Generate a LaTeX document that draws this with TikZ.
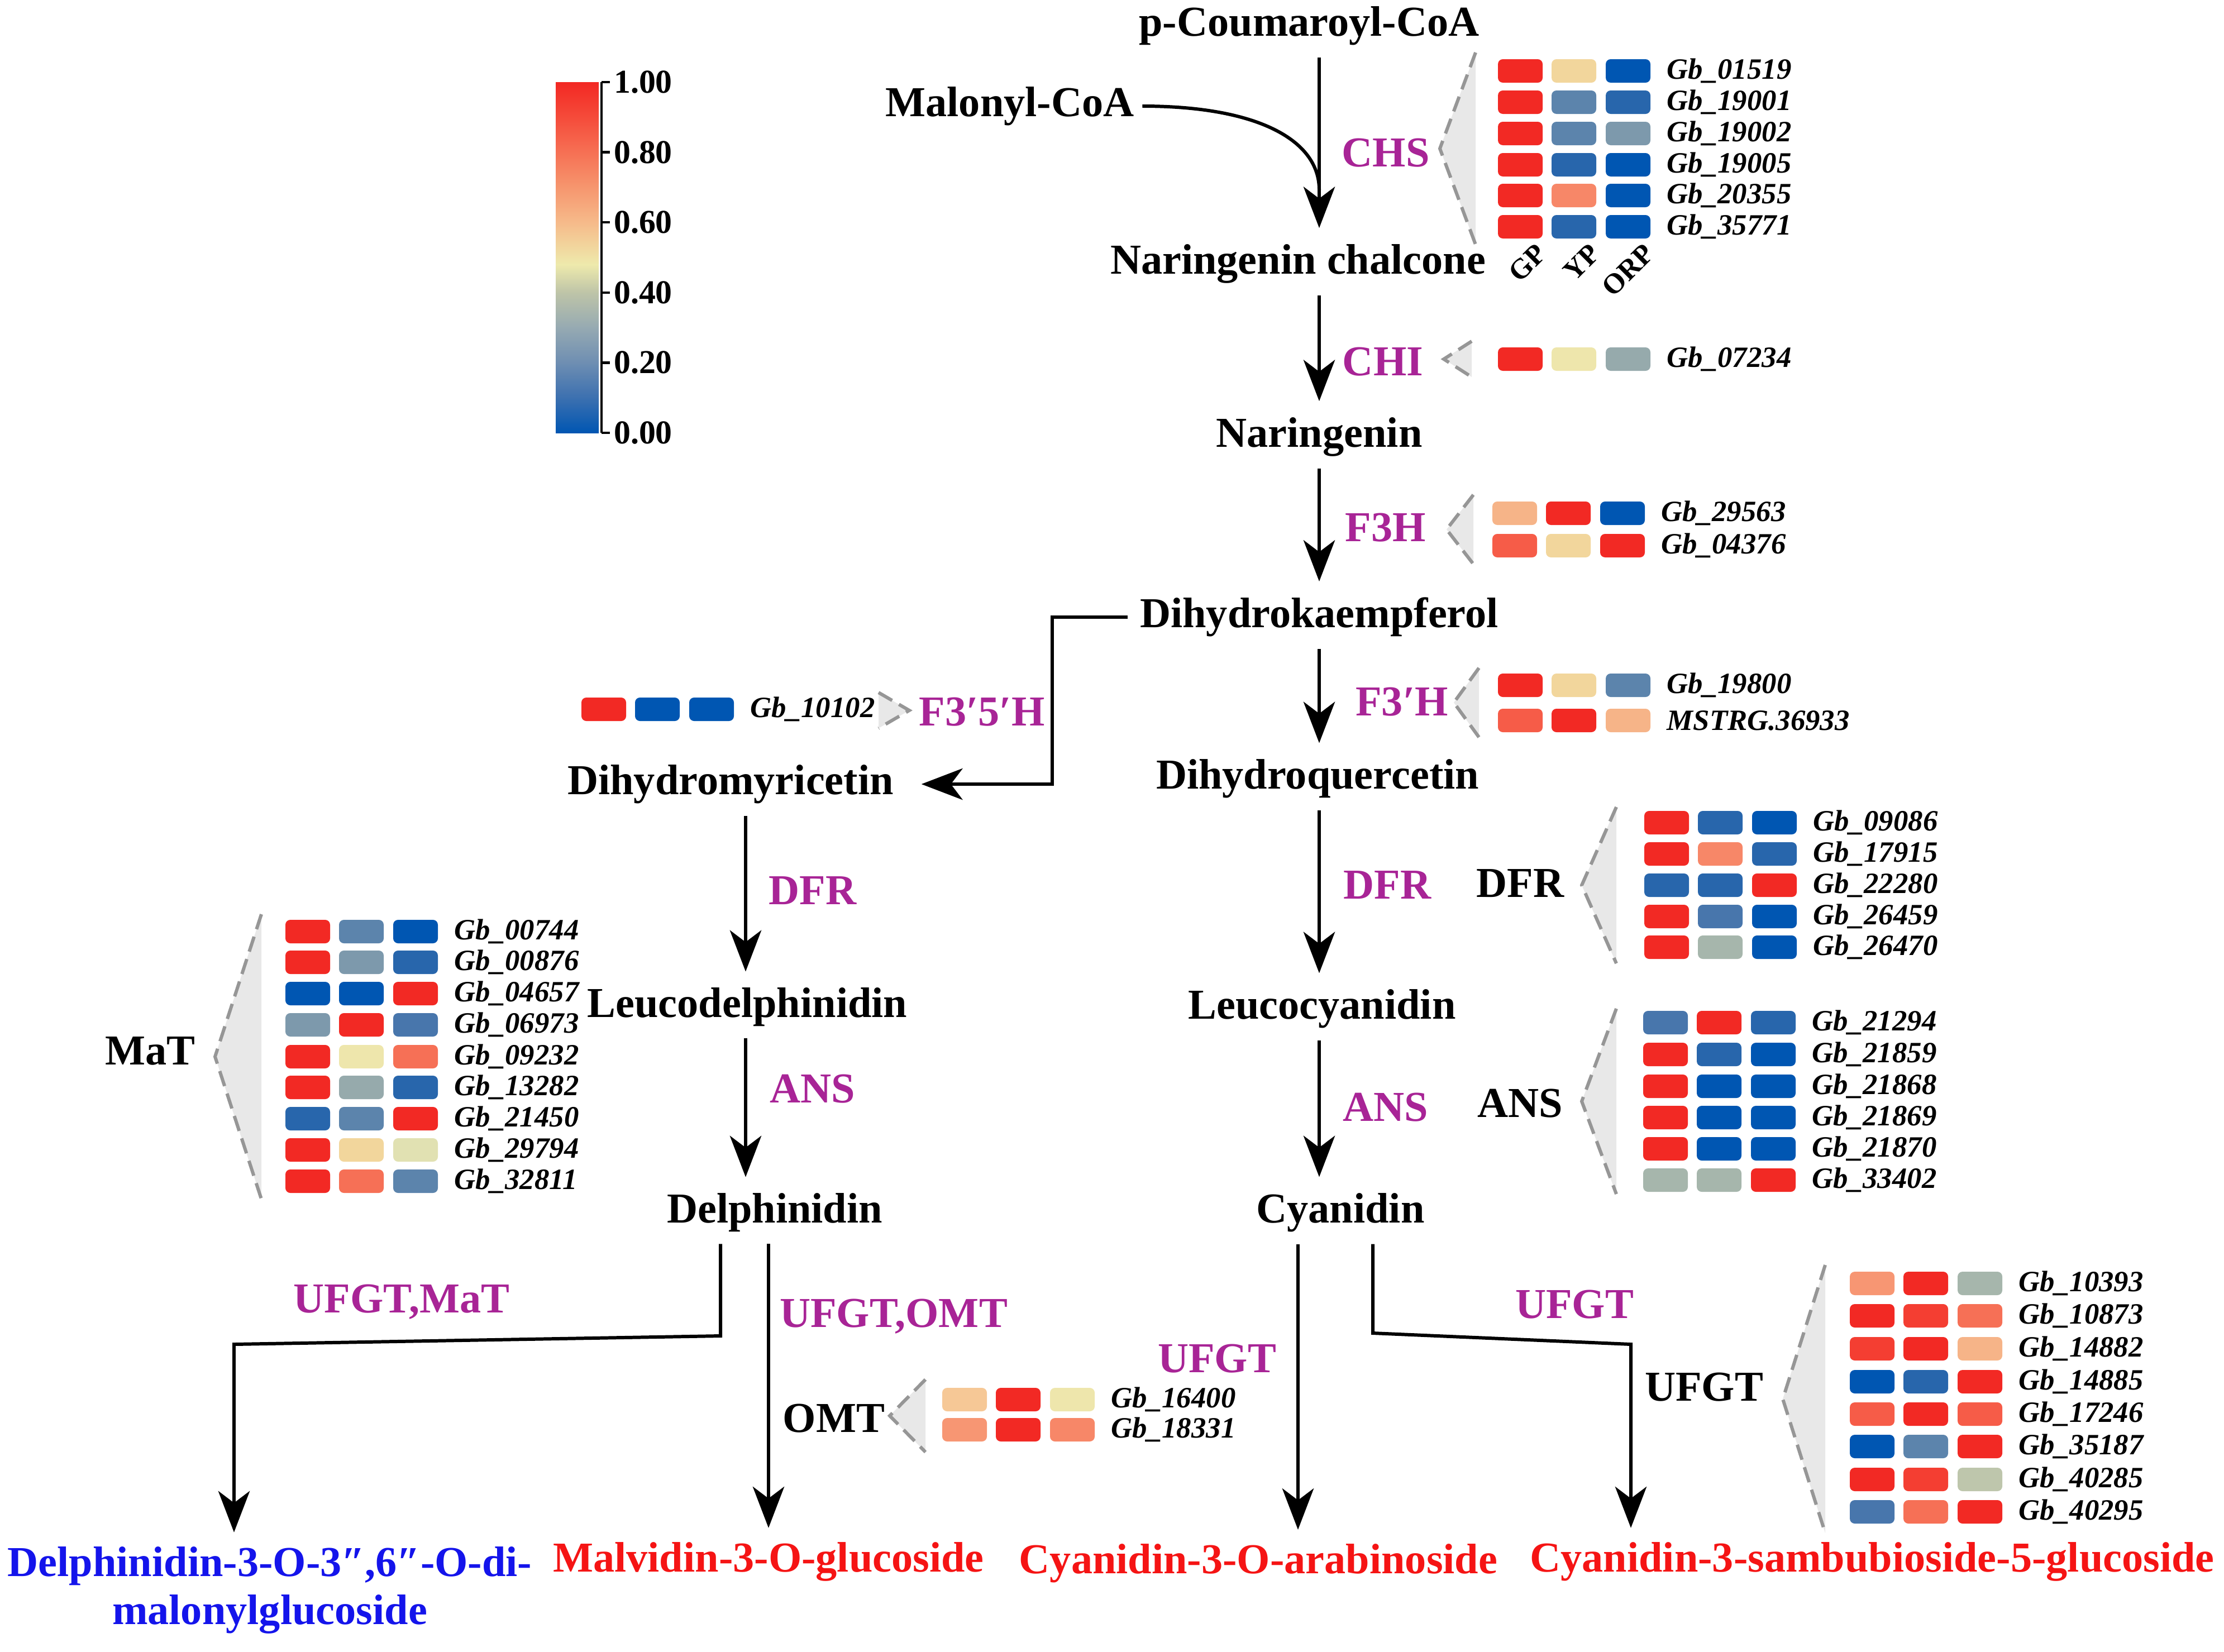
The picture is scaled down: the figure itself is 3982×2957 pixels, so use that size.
\documentclass[tikz,border=0pt]{standalone}
\usepackage{fontspec}
\setmainfont{Liberation Serif}
\usetikzlibrary{arrows.meta,calc}

\definecolor{enzc}{RGB}{168,36,150}
\definecolor{trig}{RGB}{232,232,232}
\definecolor{trigd}{RGB}{150,150,150}
\definecolor{pblue}{RGB}{20,20,235}
\definecolor{pred}{RGB}{245,20,20}
\definecolor{hR}{RGB}{242,41,36}
\definecolor{hRa}{RGB}{244,62,50}
\definecolor{hRb}{RGB}{246,92,72}
\definecolor{hRc}{RGB}{246,112,86}
\definecolor{hOr}{RGB}{247,135,104}
\definecolor{hOa}{RGB}{247,150,115}
\definecolor{hPe}{RGB}{246,180,136}
\definecolor{hPf}{RGB}{246,200,150}
\definecolor{hYe}{RGB}{242,214,156}
\definecolor{hYl}{RGB}{238,230,172}
\definecolor{hYg}{RGB}{225,225,178}
\definecolor{hGy}{RGB}{190,198,172}
\definecolor{hGg}{RGB}{166,182,172}
\definecolor{hGb}{RGB}{150,170,172}
\definecolor{hSb}{RGB}{125,153,172}
\definecolor{hMb}{RGB}{92,132,172}
\definecolor{hMc}{RGB}{72,118,172}
\definecolor{hDb}{RGB}{40,102,172}
\definecolor{hB}{RGB}{0,86,178}
\definecolor{cbA}{RGB}{60,112,176}
\definecolor{cbB}{RGB}{110,142,178}
\definecolor{cbC}{RGB}{150,170,178}
\definecolor{cbD}{RGB}{190,196,168}
\definecolor{cbE}{RGB}{238,234,172}
\definecolor{cbF}{RGB}{246,186,138}
\definecolor{cbG}{RGB}{246,150,110}
\definecolor{cbH}{RGB}{246,112,84}
\definecolor{cbI}{RGB}{245,75,58}
\definecolor{cbJ}{RGB}{242,40,35}

\pgfdeclareverticalshading{cbshade}{100bp}{color(0bp)=(hB); color(25bp)=(hB); color(30bp)=(cbA); color(35bp)=(cbB); color(40bp)=(cbC); color(45bp)=(cbD); color(49bp)=(cbE); color(55bp)=(cbF); color(60bp)=(cbG); color(65bp)=(cbH); color(70bp)=(cbI); color(75bp)=(cbJ); color(100bp)=(cbJ)}

\tikzset{
  cmp/.style={font=\bfseries\fontsize{21.7pt}{26pt}\selectfont, inner sep=4pt},
  enz/.style={font=\bfseries\fontsize{21.7pt}{26pt}\selectfont, text=enzc, inner sep=2pt},
  blk/.style={font=\bfseries\fontsize{21.7pt}{26pt}\selectfont, inner sep=2pt},
  gene/.style={font=\bfseries\itshape\fontsize{15pt}{18pt}\selectfont, anchor=west, inner sep=2pt},
  smp/.style={font=\bfseries\fontsize{14.5pt}{17pt}\selectfont, anchor=east, rotate=45, inner sep=0pt},
  cbl/.style={font=\bfseries\fontsize{17pt}{20pt}\selectfont, anchor=west, inner sep=1pt},
  arr/.style={line width=1.7pt, -{Stealth[length=21pt,width=16pt,inset=6pt]}, shorten >=4pt, shorten <=2pt},
  ln/.style={line width=1.7pt},
  hcell/.style={rounded corners=2.5pt},
  trif/.style={fill=trig},
  tridash/.style={draw=trigd, line width=1.7pt, dash pattern=on 8pt off 4pt},
  prod/.style={font=\bfseries\fontsize{21.7pt}{24.5pt}\selectfont, inner sep=3pt, align=center}
}

% one heat-map row: name, x of first column centre, y, three colours, label
\newcommand{\hmrow}[7]{%
  \fill[#4,hcell] ({#2-40},{#3-21}) rectangle ({#2+40},{#3+21});
  \fill[#5,hcell] ({#2+56},{#3-21}) rectangle ({#2+136},{#3+21});
  \fill[#6,hcell] ({#2+153},{#3-21}) rectangle ({#2+233},{#3+21});
  \node[gene] (#1) at ({#2+255},#3) {#7};}
% zoom triangle: apex x, apex y, base x, half height
\newcommand{\gtri}[4]{%
  \fill[trif] (#1,#2) -- (#3,{#2-#4}) -- (#3,{#2+#4}) -- cycle;
  \draw[tridash] (#3,{#2-#4}) -- (#1,#2) -- (#3,{#2+#4});}

\begin{document}
\begin{tikzpicture}[x=0.01cm,y=-0.01cm]
\useasboundingbox (0,0) rectangle (3982,2957);

% ---------- colour bar ----------
\shade[shading=cbshade] (995,147) rectangle (1072,775);
\draw[line width=1.2pt] (1077,147) -- (1077,775);
\foreach \v/\t [count=\i] in {1/1.00,0.8/0.80,0.6/0.60,0.4/0.40,0.2/0.20,0/0.00}{
  \draw[line width=1.2pt] (1077,{147+(1-\v)*628}) -- (1092,{147+(1-\v)*628});
  \node[cbl] (cb\i) at (1095,{147+(1-\v)*628}) {\t};
}

% ---------- compounds ----------
\node[cmp] (pcoum) at (2344,46) {p-Coumaroyl-CoA};
\node[cmp] (malo) at (1808,190) {Malonyl-CoA};
\node[cmp] (nchal) at (2324,472) {Naringenin chalcone};
\node[cmp] (nar) at (2362,782) {Naringenin};
\node[cmp] (dhk) at (2362,1105) {Dihydrokaempferol};
\node[cmp] (dmyr) at (1308,1404) {Dihydromyricetin};
\node[cmp] (dhq) at (2359,1394) {Dihydroquercetin};
\node[cmp] (lcd) at (1338,1803) {Leucodelphinidin};
\node[cmp] (lcc) at (2367,1806) {Leucocyanidin};
\node[cmp] (delph) at (1387,2171) {Delphinidin};
\node[cmp] (cyan) at (2400,2171) {Cyanidin};
\node[prod,text=pblue] (p1) at (483,2847) {Delphinidin-3-O-3″,6″-O-di-\\malonylglucoside};
\node[prod,text=pred] (p2) at (1376,2796) {Malvidin-3-O-glucoside};
\node[prod,text=pred] (p3) at (2253,2799) {Cyanidin-3-O-arabinoside};
\node[prod,text=pred] (p4) at (3352,2796) {Cyanidin-3-sambubioside-5-glucoside};

% ---------- connectors ----------
\coordinate (mx) at (2362,0);
\coordinate (lx) at (1335,0);
\coordinate (ex) at (1884,0);
\draw[arr] (mx |- pcoum.south) -- (mx |- nchal.north);
\draw[ln] (malo.east) .. controls (2250,190) and (2362,250) .. (2362,340);
\draw[arr] (mx |- nchal.south) -- (mx |- nar.north);
\draw[arr] (mx |- nar.south) -- (mx |- dhk.north);
\draw[arr] (mx |- dhk.south) -- (mx |- dhq.north);
\draw[arr] (mx |- dhq.south) -- (mx |- lcc.north);
\draw[arr] (mx |- lcc.south) -- (mx |- cyan.north);
\draw[arr,shorten >=10pt] (dhk.west) -| (ex |- dmyr.east) -- (dmyr.east);
\draw[arr] (lx |- dmyr.south) -- (lx |- lcd.north);
\draw[arr] (lx |- lcd.south) -- (lx |- delph.north);

\coordinate (b1) at (1290,0);
\coordinate (b2) at (1376,0);
\coordinate (k1) at (1290,2392);
\coordinate (k2) at (419,2407);
\draw[arr] (b1 |- delph.south) -- (k1) -- (k2) -- (k2 |- p1.north);
\draw[arr] (b2 |- delph.south) -- (b2 |- p2.north);
\coordinate (c1) at (2324,0);
\coordinate (c2) at (2458,0);
\coordinate (k3) at (2458,2387);
\coordinate (k4) at (2920,2407);
\draw[arr] (c1 |- cyan.south) -- (c1 |- p3.north);
\draw[arr] (c2 |- cyan.south) -- (k3) -- (k4) -- (k4 |- p4.north);

% ---------- enzyme labels ----------
\node[enz] (chs) at (2481,274) {CHS};
\node[enz] (chi) at (2476,648) {CHI};
\node[enz] (f3h) at (2481,945) {F3H};
\node[enz] (f3ph) at (2510,1257) {F3′H};
\node[enz] (f35h) at (1758,1275) {F3′5′H};
\node[enz] (dfrl) at (1455,1595) {DFR};
\node[enz] (dfrr) at (2484,1585) {DFR};
\node[enz] (ansl) at (1455,1950) {ANS};
\node[enz] (ansr) at (2481,1983) {ANS};
\node[enz] (ufmat) at (719,2331) {UFGT,MaT};
\node[enz] (ufomt) at (1600,2357) {UFGT,OMT};
\node[enz] (uf1) at (2179,2433) {UFGT};
\node[enz] (uf2) at (2819,2336) {UFGT};

\node[blk] (dfrb) at (2722,1582) {DFR};
\node[blk] (ansb) at (2722,1976) {ANS};
\node[blk] (matb) at (269,1882) {MaT};
\node[blk] (omtb) at (1493,2540) {OMT};
\node[blk] (ufgtb) at (3051,2484) {UFGT};

% ---------- heat maps ----------
% CHS
\gtri{2578}{266}{2642}{172}
\hmrow{g01519}{2722}{127}{hR}{hYe}{hB}{Gb\_01519}
\hmrow{g19001}{2722}{183}{hR}{hMb}{hDb}{Gb\_19001}
\hmrow{g19002}{2722}{239}{hR}{hMb}{hSb}{Gb\_19002}
\hmrow{g19005}{2722}{295}{hR}{hDb}{hB}{Gb\_19005}
\hmrow{g20355}{2722}{350}{hR}{hOr}{hB}{Gb\_20355}
\hmrow{g35771}{2722}{406}{hR}{hDb}{hB}{Gb\_35771}
\node[smp] (sGP) at (2760,445) {GP};
\node[smp] (sYP) at (2856,445) {YP};
\node[smp] (sORP) at (2953,445) {ORP};
% CHI
\gtri{2585}{643}{2635}{32}
\hmrow{g07234}{2722}{643}{hR}{hYl}{hGb}{Gb\_07234}
% F3H
\gtri{2590}{948}{2638}{62}
\hmrow{g29563}{2712}{919}{hPe}{hR}{hB}{Gb\_29563}
\hmrow{g04376}{2712}{977}{hRb}{hYe}{hR}{Gb\_04376}
% F3'H
\gtri{2603}{1258}{2648}{62}
\hmrow{g19800}{2722}{1227}{hR}{hYe}{hMb}{Gb\_19800}
\hmrow{gmstrg}{2722}{1290}{hRb}{hR}{hPe}{MSTRG.36933}
% F3'5'H
\gtri{1628}{1272}{1573}{32}
\hmrow{g10102}{1081}{1270}{hR}{hB}{hB}{Gb\_10102}
% DFR
\gtri{2832}{1585}{2894}{140}
\hmrow{g09086}{2984}{1473}{hR}{hDb}{hB}{Gb\_09086}
\hmrow{g17915}{2984}{1529}{hR}{hOr}{hDb}{Gb\_17915}
\hmrow{g22280}{2984}{1585}{hDb}{hDb}{hR}{Gb\_22280}
\hmrow{g26459}{2984}{1641}{hR}{hMc}{hB}{Gb\_26459}
\hmrow{g26470}{2984}{1696}{hR}{hGg}{hB}{Gb\_26470}
% ANS
\gtri{2832}{1972}{2894}{166}
\hmrow{g21294}{2982}{1831}{hMc}{hR}{hDb}{Gb\_21294}
\hmrow{g21859}{2982}{1888}{hR}{hDb}{hB}{Gb\_21859}
\hmrow{g21868}{2982}{1945}{hR}{hB}{hB}{Gb\_21868}
\hmrow{g21869}{2982}{2001}{hR}{hB}{hB}{Gb\_21869}
\hmrow{g21870}{2982}{2057}{hR}{hB}{hB}{Gb\_21870}
\hmrow{g33402}{2982}{2113}{hGg}{hGg}{hR}{Gb\_33402}
% MaT
\gtri{385}{1892}{468}{255}
\hmrow{g00744}{551}{1668}{hR}{hMb}{hB}{Gb\_00744}
\hmrow{g00876}{551}{1723}{hR}{hSb}{hDb}{Gb\_00876}
\hmrow{g04657}{551}{1779}{hB}{hB}{hR}{Gb\_04657}
\hmrow{g06973}{551}{1835}{hSb}{hR}{hMc}{Gb\_06973}
\hmrow{g09232}{551}{1892}{hR}{hYl}{hRc}{Gb\_09232}
\hmrow{g13282}{551}{1947}{hR}{hGb}{hDb}{Gb\_13282}
\hmrow{g21450}{551}{2003}{hDb}{hMb}{hR}{Gb\_21450}
\hmrow{g29794}{551}{2059}{hR}{hYe}{hYg}{Gb\_29794}
\hmrow{g32811}{551}{2115}{hR}{hRc}{hMb}{Gb\_32811}
% OMT
\gtri{1593}{2535}{1657}{65}
\hmrow{g16400}{1727}{2506}{hPf}{hR}{hYl}{Gb\_16400}
\hmrow{g18331}{1727}{2560}{hOa}{hR}{hOr}{Gb\_18331}
% UFGT
\gtri{3192}{2505}{3268}{240}
\hmrow{g10393}{3352}{2298}{hOa}{hR}{hGg}{Gb\_10393}
\hmrow{g10873}{3352}{2356}{hR}{hRa}{hRc}{Gb\_10873}
\hmrow{g14882}{3352}{2415}{hRa}{hR}{hPe}{Gb\_14882}
\hmrow{g14885}{3352}{2474}{hB}{hDb}{hR}{Gb\_14885}
\hmrow{g17246}{3352}{2532}{hRb}{hR}{hRb}{Gb\_17246}
\hmrow{g35187}{3352}{2590}{hB}{hMb}{hR}{Gb\_35187}
\hmrow{g40285}{3352}{2649}{hR}{hRa}{hGy}{Gb\_40285}
\hmrow{g40295}{3352}{2707}{hMc}{hRc}{hR}{Gb\_40295}
\end{tikzpicture}
\end{document}
